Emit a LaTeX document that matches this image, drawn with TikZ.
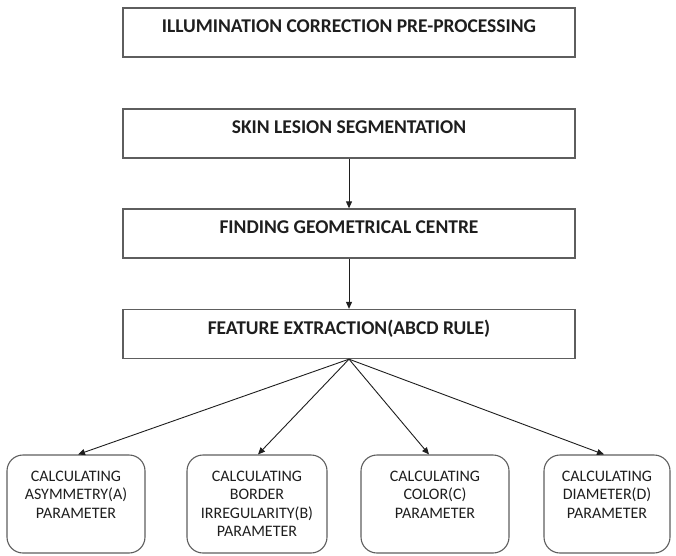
\documentclass[tikz,border=0pt]{standalone}
\usepackage{fontspec}
\setmainfont{Carlito}
\usetikzlibrary{arrows.meta}
\definecolor{edge}{HTML}{5E5E5E}
\definecolor{ink}{HTML}{1E1E1E}
\begin{document}
\begin{tikzpicture}[x=1pt,y=-1pt,
  stage/.style={draw=edge, line width=1.3pt, inner xsep=0pt, inner ysep=0pt,
    minimum width=452pt, text height=24.5pt, text depth=24.5pt,
    font=\fontsize{19.5}{22}\selectfont\bfseries, text=ink},
  param/.style={draw=edge, line width=1.1pt, rounded corners=16pt, inner sep=0pt,
    text=ink, font=\fontsize{16}{18.5}\selectfont},
  flow/.style={draw=ink, line width=0.9pt, -{Triangle[length=7pt,width=6pt]}}]
\useasboundingbox (0,0) rectangle (676,555);
\node[stage] (illum) at (349,32.5) {ILLUMINATION CORRECTION PRE-PROCESSING};
\node[stage] (seg) at (349,133.5) {SKIN LESION SEGMENTATION};
\node[stage] (centre) at (349,233.5) {FINDING GEOMETRICAL CENTRE};
\node[stage] (feat) at (349,334) {FEATURE EXTRACTION(ABCD RULE)};
\node[param] (asym) at (76,504) {\parbox[c][98pt][t]{138pt}{\centering\vspace{16pt}CALCULATING\\ASYMMETRY(A)\\PARAMETER}};
\node[param] (border) at (257,504) {\parbox[c][98pt][t]{140pt}{\centering\vspace{16pt}CALCULATING\\BORDER\\IRREGULARITY(B)\\PARAMETER}};
\node[param] (colour) at (435,504) {\parbox[c][98pt][t]{148pt}{\centering\vspace{16pt}CALCULATING\\COLOR(C)\\PARAMETER}};
\node[param] (diam) at (607,504) {\parbox[c][98pt][t]{126pt}{\centering\vspace{16pt}CALCULATING\\DIAMETER(D)\\PARAMETER}};
\draw[flow] (seg) -- (centre);
\draw[flow] (centre) -- (feat);
\coordinate (hub) at (feat.south);
\draw[flow] (hub) -- (asym.north -| 78,0);
\draw[flow] (hub) -- (border.north -| 258,0);
\draw[flow] (hub) -- (colour.north -| 429,0);
\draw[flow] (hub) -- (diam.north -| 604,0);
\end{tikzpicture}
\end{document}
